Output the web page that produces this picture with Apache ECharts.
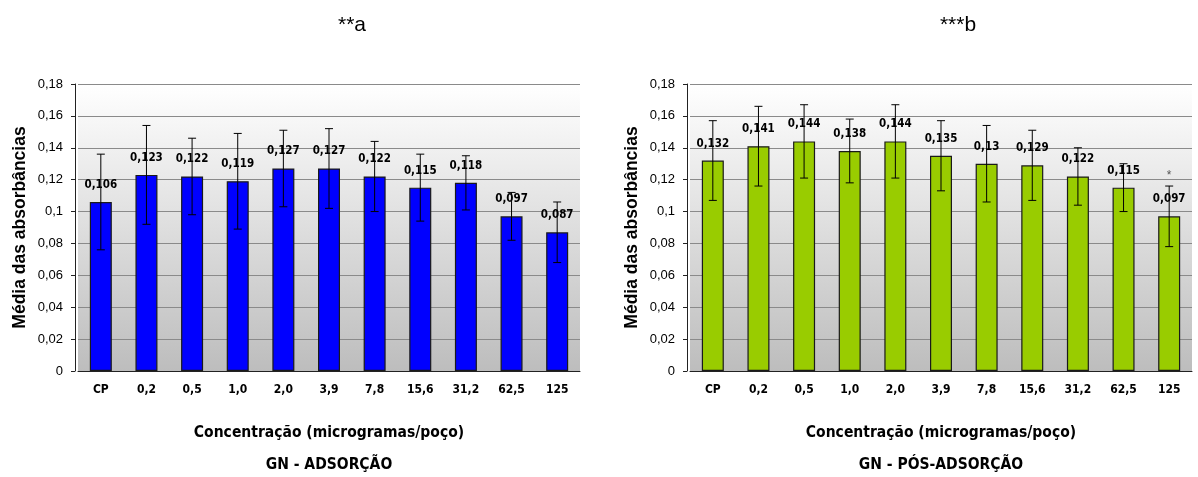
<!DOCTYPE html>
<html>
<head>
<meta charset="utf-8">
<title>GN - Adsorção / Pós-adsorção</title>
<script src="https://cdn.jsdelivr.net/npm/echarts@6/dist/echarts.min.js"></script>
<style>
  html, body { margin: 0; padding: 0; background: #ffffff; }
  #chart { width: 1198px; height: 477px; }
</style>
</head>
<body>
<div id="chart"></div>
<script>
// Concentrations tested (micrograms per well); CP = positive control
const categories = ['CP', '0,2', '0,5', '1,0', '2,0', '3,9', '7,8', '15,6', '31,2', '62,5', '125'];

// (a) GN - adsorção: mean absorbance and standard deviation
const adsorcaoMeans = [0.106, 0.123, 0.122, 0.119, 0.127, 0.127, 0.122, 0.115, 0.118, 0.097, 0.087];
const adsorcaoErr   = [0.030, 0.031, 0.024, 0.030, 0.024, 0.025, 0.022, 0.021, 0.017, 0.015, 0.019];

// (b) GN - pós-adsorção: mean absorbance and standard deviation
const posMeans = [0.132, 0.141, 0.144, 0.138, 0.144, 0.135, 0.13, 0.129, 0.122, 0.115, 0.097];
const posErr   = [0.025, 0.025, 0.023, 0.020, 0.023, 0.022, 0.024, 0.022, 0.018, 0.015, 0.019];

// significance marks drawn above the error bars
const adsorcaoMarks = ['', '', '', '', '', '', '', '', '', '', ''];
const posMarks      = ['', '', '', '', '', '', '', '', '', '', '*'];

// y axis tick labels (decimal comma)
const yTickLabels = ['0', '0,02', '0,04', '0,06', '0,08', '0,1', '0,12', '0,14', '0,16', '0,18'];

const panelTitles = ['**a', '***b'];
const yName = 'Média das absorbâncias';
const xName = 'Concentração (microgramas/poço)';
const panelNames = ['GN - ADSORÇÃO', 'GN - PÓS-ADSORÇÃO'];

// narrow bold face: font-stretch goes into the weight slot of the canvas font shorthand
const NARROW = '"Liberation Sans Narrow", "DejaVu Sans", sans-serif';
const NARROW_WEIGHT = 'bold condensed';
const ARIAL = '"Liberation Sans", Arial, sans-serif';

const fmtDec = v => String(v).replace('.', ',');

const chart = echarts.init(document.getElementById('chart'), null, { renderer: 'canvas' });

const plotBg = new echarts.graphic.LinearGradient(0, 0, 0, 1, [
  { offset: 0, color: '#ffffff' },
  { offset: 1, color: '#bdbdbd' }
]);

const grids = [
  { left: 78, width: 502, top: 84, height: 287 },
  { left: 690, width: 502, top: 84, height: 287 }
].map(g => Object.assign(g, {
  show: true, backgroundColor: plotBg, borderWidth: 0,
  containLabel: false, outerBoundsMode: 'none'
}));

function xAxisFor(idx) {
  return {
    type: 'category',
    gridIndex: idx,
    data: categories,
    axisLine: { lineStyle: { color: '#222', width: 1 } },
    axisTick: { show: false },
    axisLabel: { color: '#000', fontFamily: NARROW, fontWeight: NARROW_WEIGHT, fontSize: 12, margin: 13 },
    name: xName + '\n' + panelNames[idx],
    nameLocation: 'middle',
    nameGap: 46,
    nameTextStyle: { color: '#000', fontFamily: NARROW, fontWeight: NARROW_WEIGHT, fontSize: 15.5, lineHeight: 32 }
  };
}

function yAxisFor(idx) {
  return {
    type: 'value',
    gridIndex: idx,
    min: 0,
    max: 0.18,
    interval: 0.02,
    offset: 3,
    axisLine: { show: true, lineStyle: { color: '#222', width: 1 } },
    axisTick: { show: true, length: 4, lineStyle: { color: '#222' } },
    axisLabel: {
      color: '#000', fontFamily: ARIAL, fontSize: 13, margin: 12,
      formatter: v => yTickLabels[Math.round(v / 0.02)]
    },
    splitLine: { show: true, lineStyle: { color: '#8a8a8a', width: 1 } },
    name: yName,
    nameLocation: 'middle',
    nameRotate: 90,
    nameGap: 46,
    nameTextStyle: { color: '#000', fontFamily: ARIAL, fontWeight: 'bold', fontSize: 17.5 }
  };
}

function barSeries(idx, means, color) {
  return {
    type: 'bar',
    xAxisIndex: idx,
    yAxisIndex: idx,
    data: means,
    barWidth: 22,
    z: 2,
    itemStyle: { color: color, borderColor: '#1a1a1a', borderWidth: 1.2 },
    label: {
      show: true,
      position: 'top',
      distance: 11,
      color: '#000',
      fontFamily: NARROW,
      fontWeight: NARROW_WEIGHT,
      fontSize: 11.5,
      formatter: p => fmtDec(p.value)
    }
  };
}

function errorSeries(idx, means, errs, marks) {
  return {
    type: 'custom',
    xAxisIndex: idx,
    yAxisIndex: idx,
    z: 4,
    silent: true,
    data: means.map((m, i) => [i, m, errs[i]]),
    renderItem: (params, api) => {
      const i = api.value(0);
      const m = api.value(1);
      const e = api.value(2);
      const hi = api.coord([i, m + e]);
      const lo = api.coord([i, m - e]);
      const cap = 4;
      const style = { stroke: '#000', lineWidth: 1 };
      const children = [
        { type: 'line', shape: { x1: hi[0], y1: hi[1], x2: lo[0], y2: lo[1] }, style },
        { type: 'line', shape: { x1: hi[0] - cap, y1: hi[1], x2: hi[0] + cap, y2: hi[1] }, style },
        { type: 'line', shape: { x1: lo[0] - cap, y1: lo[1], x2: lo[0] + cap, y2: lo[1] }, style }
      ];
      const mark = marks[params.dataIndex];
      if (mark) {
        children.push({
          type: 'text',
          style: {
            text: mark, x: hi[0], y: hi[1] - 4,
            align: 'center', verticalAlign: 'bottom',
            fill: '#555', font: '12px ' + ARIAL
          }
        });
      }
      return { type: 'group', children };
    }
  };
}

chart.setOption({
  animation: false,
  backgroundColor: '#ffffff',
  title: [
    { text: panelTitles[0], left: 347, top: 10, textAlign: 'center',
      textStyle: { color: '#000', fontFamily: ARIAL, fontWeight: 'normal', fontSize: 21 } },
    { text: panelTitles[1], left: 953, top: 10, textAlign: 'center',
      textStyle: { color: '#000', fontFamily: ARIAL, fontWeight: 'normal', fontSize: 21 } }
  ],
  grid: grids,
  xAxis: [xAxisFor(0), xAxisFor(1)],
  yAxis: [yAxisFor(0), yAxisFor(1)],
  series: [
    barSeries(0, adsorcaoMeans, '#0000ff'),
    errorSeries(0, adsorcaoMeans, adsorcaoErr, adsorcaoMarks),
    barSeries(1, posMeans, '#99cc00'),
    errorSeries(1, posMeans, posErr, posMarks)
  ]
});
</script>
</body>
</html>
